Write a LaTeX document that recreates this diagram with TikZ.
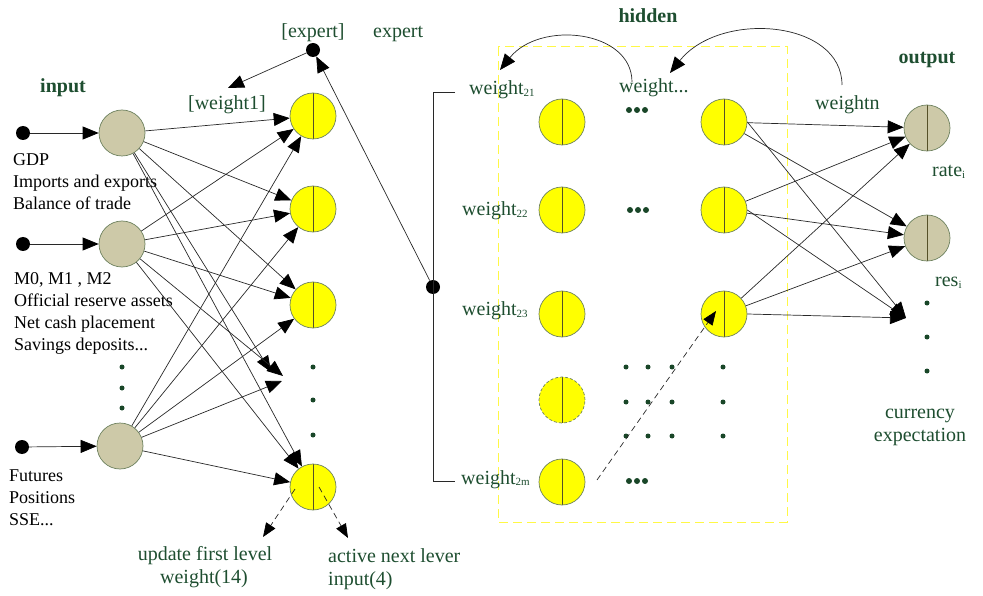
\documentclass[tikz,border=0pt]{standalone}
\usepackage{fontspec}
\setmainfont{Liberation Serif}
\usetikzlibrary{arrows.meta}

\definecolor{lblgreen}{RGB}{30,78,48}
\definecolor{dotgreen}{RGB}{25,70,40}
\definecolor{tanfill}{RGB}{205,201,168}
\definecolor{yellowfill}{RGB}{255,255,0}
\definecolor{nodeedge}{RGB}{110,130,95}
\definecolor{splitcol}{RGB}{85,80,40}
\definecolor{linegray}{RGB}{40,40,40}
\definecolor{boxyellow}{RGB}{255,248,70}

\newcommand\lowsub[1]{\raisebox{-1.5pt}{\fontsize{11}{11}\selectfont #1}}

\begin{document}
\begin{tikzpicture}[x=1pt,y=-1pt,
  lbl/.style={text=lblgreen, font=\fontsize{20}{24}\selectfont, inner sep=0pt},
  blk/.style={text=black, font=\fontsize{18}{22}\selectfont, inner sep=0pt, anchor=base west},
  head/.style={text=lblgreen, font=\bfseries\fontsize{20}{24}\selectfont, inner sep=0pt, anchor=base},
  innode/.style={circle, minimum size=46pt, inner sep=0pt, draw=nodeedge, fill=tanfill, line width=0.7pt},
  unit/.style={circle, minimum size=46pt, inner sep=0pt, draw=nodeedge, fill=yellowfill, line width=0.7pt,
    path picture={\draw[draw=splitcol, line width=0.9pt, solid] (path picture bounding box.north) -- (path picture bounding box.south);}},
  outunit/.style={unit, fill=tanfill},
  src/.style={circle, fill=black, minimum size=14pt, inner sep=0pt},
  edge/.style={draw=linegray, line width=0.7pt, -{Triangle[length=16pt,width=13pt,black]}},
  dashedge/.style={draw=linegray, line width=0.7pt, dash pattern=on 6pt off 4pt, -{Triangle[length=14pt,width=11pt,black]}},
  pt/.style={circle, fill=dotgreen, minimum size=5pt, inner sep=0pt},
]
\useasboundingbox (0,0) rectangle (983,596);

% ---------- input layer ----------
\node[head] (inputhd) at (63,93) {input};
\node[src] (s1) at (23,133) {};
\node[src] (s2) at (23,244) {};
\node[src] (s3) at (22,447) {};
\node[innode] (in1) at (122,133) {};
\node[innode] (in2) at (122,244) {};
\node[innode] (in3) at (120,446) {};
\foreach \i in {1,2,3} \draw[edge] (s\i) -- (in\i);

\node[blk] (g1) at (13,166) {GDP};
\node[blk] (g2) at (13,188) {Imports and exports};
\node[blk] (g3) at (13,210) {Balance of trade};
\node[blk] (m1) at (14,284) {M0, M1 , M2};
\node[blk] (m2) at (14,306) {Official reserve assets};
\node[blk] (m3) at (14,328) {Net cash placement};
\node[blk] (m4) at (14,350) {Savings deposits...};
\node[blk] (f1) at (9,481) {Futures};
\node[blk] (f2) at (9,503) {Positions};
\node[blk] (f3) at (9,525) {SSE...};
\foreach \y [count=\k] in {367,388,408} \node[pt] (ind\k) at (122,\y) {};

% ---------- first hidden layer ----------
\node[unit] (h1) at (313,116) {};
\node[unit] (h2) at (313,209) {};
\node[unit] (h3) at (313,305) {};
\node[unit] (h4) at (313,487) {};
\foreach \y [count=\k] in {367,400,435} \node[pt] (hd\k) at (313,\y) {};
\coordinate (d1) at (271,372);
\coordinate (d2) at (283,376);
\coordinate (d3) at (282,381);
\foreach \i in {1,2,3}{
  \foreach \j in {1,2,3,4} \draw[edge] (in\i) -- (h\j);
  \draw[edge] (in\i) -- (d\i);
}

% expert unit
\node[src] (expert) at (313,50) {};
\node[lbl, anchor=base] (expertlbl) at (313,38) {[expert]};
\node[lbl, anchor=base west] (expertname) at (373,38) {expert};
\node[lbl, anchor=base] (w1lbl) at (227,110) {[weight1]};
\coordinate (w1tip) at (228,88);
\draw[edge] (expert) -- (w1tip);

% bracket gathering the second-level weights
\node[src] (junc) at (433,287) {};
\draw[draw=linegray, line width=0.7pt] (455,92) -- (433,92) -- (433,481) -- (455,481);
\draw[edge] (junc) -- (expert);

% update / activation arrows
\coordinate (u1s) at (295,489);
\coordinate (u1e) at (263,537);
\coordinate (u2s) at (319,487);
\coordinate (u2e) at (348,538);
\draw[dashedge] (u1s) -- (u1e);
\draw[dashedge] (u2s) -- (u2e);
\node[lbl, anchor=base] (upd1) at (205,560) {update first level};
\node[lbl, anchor=base] (upd2) at (204,583) {weight(14)};
\node[lbl, anchor=base west] (act1) at (328,562) {active next lever};
\node[lbl, anchor=base west] (act2) at (328,585) {input(4)};

% ---------- hidden block ----------
\node[head] (hiddenhd) at (648,23) {hidden};
\draw[draw=boxyellow, line width=1pt, dash pattern=on 9pt off 5pt] (498,47) rectangle (787,522);

\node[lbl, anchor=base west] (wt21) at (469,95) {weight\lowsub{21}};
\node[lbl, anchor=base west] (wt22) at (462,216) {weight\lowsub{22}};
\node[lbl, anchor=base west] (wt23) at (462,316) {weight\lowsub{23}};
\node[lbl, anchor=base west] (wt2m) at (461,484) {weight\lowsub{2m}};
\node[lbl, anchor=base west] (wtdots) at (619,93) {weight...};
\node[lbl, anchor=base west] (wtn) at (815,110) {weightn};

\node[unit] (a1) at (562,122) {};
\node[unit] (a2) at (562,210) {};
\node[unit] (a3) at (562,314) {};
\node[unit, densely dashed] (a4) at (562,400) {};
\node[unit] (a5) at (562,482) {};
\node[unit] (b1) at (724,122) {};
\node[unit] (b2) at (724,210) {};
\node[unit] (b3) at (724,314) {};

% ellipsis marks
\foreach \x [count=\k] in {629,637,645} \node[pt, minimum size=6pt] (e1\k) at (\x,110) {};
\foreach \x [count=\k] in {630,638,646} \node[pt, minimum size=6pt] (e2\k) at (\x,210) {};
\foreach \x [count=\k] in {629,637,645} \node[pt, minimum size=6pt] (e5\k) at (\x,481) {};
\foreach \y [count=\r] in {367,402,436}
  \foreach \x [count=\c] in {626,648,672,723} \node[pt] (g\r\c) at (\x,\y) {};

% feedback curves
\coordinate (c1tip) at (500,70);
\coordinate (c1s) at (632,82);
\coordinate (c2tip) at (670,73);
\coordinate (c2s) at (842,85);
\draw[edge] (c1s) .. controls (632,30) and (540,20) .. (c1tip);
\draw[edge] (c2s) .. controls (842,20) and (720,10) .. (c2tip);

% dashed update arrow inside the hidden block
\coordinate (ds) at (597,480);
\coordinate (de) at (716,311);
\draw[dashedge] (ds) -- (de);

% ---------- output layer ----------
\node[head] (outputhd) at (927,64) {output};
\node[outunit] (o1) at (927,128) {};
\node[outunit] (o2) at (927,238) {};
\coordinate (o3) at (906,318);
\foreach \i in {1,2,3}{
  \draw[edge] (b\i) -- (o1);
  \draw[edge] (b\i) -- (o2);
  \draw[edge] (b\i.east) -- (o3);
}
\node[lbl, anchor=base west] (rate) at (932,177) {rate\lowsub{i}};
\node[lbl, anchor=base west] (res) at (935,287) {res\lowsub{i}};
\foreach \y [count=\k] in {303,337,371} \node[pt] (od\k) at (927,\y) {};
\node[lbl, anchor=base] (cur1) at (920,418) {currency};
\node[lbl, anchor=base] (cur2) at (920,441) {expectation};
\end{tikzpicture}
\end{document}
